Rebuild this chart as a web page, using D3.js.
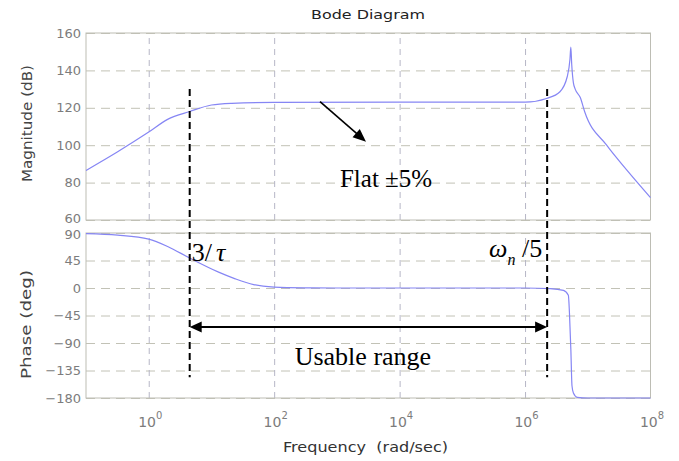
<!DOCTYPE html>
<html>
<head>
<meta charset="utf-8">
<script src="https://cdn.jsdelivr.net/npm/d3@7"></script>
<style>
  html, body { margin: 0; padding: 0; background: #fff; }
  svg { display: block; }
</style>
</head>
<body>
<script>
// Bode diagram of a band-limited sensor: magnitude (dB) and phase (deg) vs frequency

// Magnitude response
const magFreq = [0.1, 0.32, 1, 2, 4.5, 10, 21, 100, 1e4, 1e6, 2.2e6, 3.6e6, 4.7e6, 5.2e6, 5.37e6, 5.55e6, 5.9e6, 6.3e6, 7.6e6, 8.9e6, 2e7, 4.2e7, 1e8];
const magDb   = [86.5, 96.5, 107, 113.8, 118, 121.5, 122.4, 122.9, 123, 123, 125, 128.6, 136.6, 146, 152.4, 143, 133.3, 130, 125.5, 118, 100, 86.7, 72];

// Phase response
const phaseFreq = [0.1, 0.32, 1, 2, 4.5, 13, 24, 47, 100, 316, 1000, 1e6, 2.5e6, 4.1e6, 4.9e6, 5.1e6, 5.37e6, 5.6e6, 5.9e6, 6.8e6, 1e7, 1e8];
const phaseDeg  = [89, 86.5, 80, 68, 49, 26, 15, 5.5, 1.5, 0.3, 0, 0, -1, -4, -12, -40, -100, -160, -172, -179, -180, -180];

// Axis ticks
const magTicks   = [60, 80, 100, 120, 140, 160];
const phaseTicks = [-180, -135, -90, -45, 0, 45, 90];
const freqTicks  = [1, 100, 1e4, 1e6, 1e8];
const freqTickExp = ["0", "2", "4", "6", "8"];

// Annotation frequencies: 3/tau and omega_n/5
const markerFreq = [4.5, 2.25e6];

const W = 679, H = 461;
const svg = d3.select("body").append("svg").attr("width", W).attr("height", H);

const x = d3.scaleLog().domain([0.1, 1e8]).range([86, 650.5]);
const yMag = d3.scaleLinear().domain([60, 160]).range([220, 33]);
const yPh = d3.scaleLinear().domain([-180, 90]).range([398, 233]);

const tickFont = "'DejaVu Sans', Arial, sans-serif";
const serif = "'Liberation Serif', 'Times New Roman', serif";

// the two panels share an edge: keep their end labels apart
function labelNudge(yScale, d) {
  const [lo, hi] = yScale.domain();
  if (yScale === yMag && d === lo) return -1.5;
  if (yScale === yPh && d === hi) return 1.5;
  return 0;
}

function panel(yScale, ticks) {
  const [y1, y0] = yScale.range();
  const g = svg.append("g");
  // horizontal grid
  g.append("g").attr("transform", `translate(${x.range()[0]},0)`)
    .call(d3.axisLeft(yScale).tickValues(ticks).tickSize(-(x.range()[1] - x.range()[0])).tickFormat(""))
    .call(a => a.select(".domain").remove())
    .call(a => a.selectAll("line").attr("stroke", "#c2c2b6").attr("stroke-dasharray", "9,6"));
  // vertical grid
  g.append("g").attr("transform", `translate(0,${y1})`)
    .call(d3.axisBottom(x).tickValues(freqTicks.slice(0, -1)).tickSize(-(y1 - y0)).tickFormat(""))
    .call(a => a.select(".domain").remove())
    .call(a => a.selectAll("line").attr("stroke", "#b6b6c6").attr("stroke-dasharray", "6,5"));
  // tick labels
  g.append("g").attr("transform", `translate(${x.range()[0]},0)`)
    .call(d3.axisLeft(yScale).tickValues(ticks).tickSize(0).tickPadding(5))
    .call(a => a.select(".domain").remove())
    .call(a => a.selectAll("text")
      .attr("y", d => labelNudge(yScale, d))
      .attr("font-family", tickFont).attr("font-size", 13).attr("fill", "#7c7c7c"));
  // frame
  g.append("rect")
    .attr("x", x.range()[0]).attr("y", y0)
    .attr("width", x.range()[1] - x.range()[0]).attr("height", y1 - y0)
    .attr("fill", "none").attr("stroke", "#bdbdb4").attr("stroke-width", 1);
  return g;
}

panel(yMag, magTicks);
panel(yPh, phaseTicks);

// frequency tick labels with exponents
svg.append("g").attr("transform", `translate(0,${yPh.range()[0]})`)
  .call(d3.axisBottom(x).tickValues(freqTicks).tickSize(0).tickFormat(""))
  .call(a => a.select(".domain").remove())
  .call(a => a.selectAll(".tick text").each(function(d, i) {
    const t = d3.select(this).attr("y", 29).attr("dy", null).attr("dx", 1)
      .attr("font-family", tickFont).attr("font-size", 14).attr("fill", "#7c7c7c")
      .attr("text-anchor", "middle");
    t.append("tspan").text("10");
    t.append("tspan").attr("dy", -8).attr("font-size", 10).text(freqTickExp[i]);
  }));

// response curves
const curveColor = "#8686f4";
const magData = magFreq.map((f, i) => [f, magDb[i]]);
const phData = phaseFreq.map((f, i) => [f, phaseDeg[i]]);

svg.append("path").datum(magData)
  .attr("fill", "none").attr("stroke", curveColor).attr("stroke-width", 1.2)
  .attr("d", d3.line().x(d => x(d[0])).y(d => yMag(d[1])).curve(d3.curveMonotoneX));
svg.append("path").datum(phData)
  .attr("fill", "none").attr("stroke", curveColor).attr("stroke-width", 1.2)
  .attr("d", d3.line().x(d => x(d[0])).y(d => yPh(d[1])).curve(d3.curveMonotoneX));

// titles
svg.append("text").attr("x", 368).attr("y", 19).attr("text-anchor", "middle")
  .attr("font-family", tickFont).attr("font-size", 13).attr("fill", "#222")
  .attr("textLength", 114).attr("lengthAdjust", "spacingAndGlyphs")
  .text("Bode Diagram");
svg.append("text").attr("x", 365.5).attr("y", 452).attr("text-anchor", "middle")
  .attr("font-family", tickFont).attr("font-size", 13.5).attr("fill", "#333")
  .style("white-space", "pre")
  .attr("textLength", 165).attr("lengthAdjust", "spacingAndGlyphs")
  .text("Frequency  (rad/sec)");
svg.append("text").attr("transform", "translate(32,123.5) rotate(-90)").attr("text-anchor", "middle")
  .attr("font-family", tickFont).attr("font-size", 14).attr("fill", "#444")
  .attr("textLength", 117).attr("lengthAdjust", "spacingAndGlyphs")
  .text("Magnitude (dB)");
svg.append("text").attr("transform", "translate(31,324.5) rotate(-90)").attr("text-anchor", "middle")
  .attr("font-family", tickFont).attr("font-size", 14).attr("fill", "#444")
  .attr("textLength", 109).attr("lengthAdjust", "spacingAndGlyphs")
  .text("Phase (deg)");

// annotations
const ann = svg.append("g");

// vertical dashed markers
markerFreq.forEach(f => {
  ann.append("line")
    .attr("x1", x(f)).attr("x2", x(f))
    .attr("y1", yMag(130)).attr("y2", yPh(-146))
    .attr("stroke", "#000").attr("stroke-width", 2).attr("stroke-dasharray", "7,4");
});

function arrowHead(x1, y1, x2, y2, len, half) {
  const a = Math.atan2(y2 - y1, x2 - x1);
  const bx = x2 - len * Math.cos(a), by = y2 - len * Math.sin(a);
  const px = -Math.sin(a) * half, py = Math.cos(a) * half;
  return `M${x2},${y2}L${bx + px},${by + py}L${bx - px},${by - py}Z`;
}

// usable range double arrow
const ay = yPh(-64);
const ax0 = x(markerFreq[0]), ax1 = x(markerFreq[1]);
ann.append("line").attr("x1", ax0 + 8).attr("x2", ax1 - 8).attr("y1", ay).attr("y2", ay)
  .attr("stroke", "#000").attr("stroke-width", 2);
ann.append("path").attr("d", arrowHead(ax1, ay, ax0, ay, 12, 5.5)).attr("fill", "#000");
ann.append("path").attr("d", arrowHead(ax0, ay, ax1, ay, 12, 5.5)).attr("fill", "#000");

ann.append("text").attr("x", x(2.6e3)).attr("y", yPh(-126)).attr("text-anchor", "middle")
  .attr("font-family", serif).attr("font-size", 26).attr("fill", "#000")
  .text("Usable range");

// flat region pointer
const fx0 = x(538), fy0 = yMag(123.3), fx1 = x(2910), fy1 = yMag(101.9);
ann.append("line").attr("x1", fx0).attr("y1", fy0).attr("x2", fx1 - 8).attr("y2", fy1 - 7)
  .attr("stroke", "#000").attr("stroke-width", 1.6);
ann.append("path").attr("d", arrowHead(fx0, fy0, fx1, fy1, 13, 5.5)).attr("fill", "#000");

ann.append("text").attr("x", x(1120)).attr("y", yMag(77.6))
  .attr("font-family", serif).attr("font-size", 25).attr("fill", "#000")
  .text("Flat ±5%");

// 3/tau label
const t1 = ann.append("text").attr("x", x(markerFreq[0]) + 2).attr("y", yPh(44))
  .attr("font-family", serif).attr("font-size", 26).attr("fill", "#000")
  .style("white-space", "pre");
t1.append("tspan").text("3/");
t1.append("tspan").attr("dx", 4).attr("font-style", "italic").text("τ");

// omega_n/5 label
const t2 = ann.append("text").attr("x", x(markerFreq[1]) - 5).attr("y", yPh(50.5))
  .attr("text-anchor", "end")
  .attr("font-family", serif).attr("font-size", 26).attr("fill", "#000")
  .style("white-space", "pre");
t2.append("tspan").attr("font-style", "italic").text("ω");
t2.append("tspan").attr("font-style", "italic").attr("font-size", 16).attr("dy", 8).text("n");
t2.append("tspan").attr("dy", -8).text(" /5");
</script>
</body>
</html>
